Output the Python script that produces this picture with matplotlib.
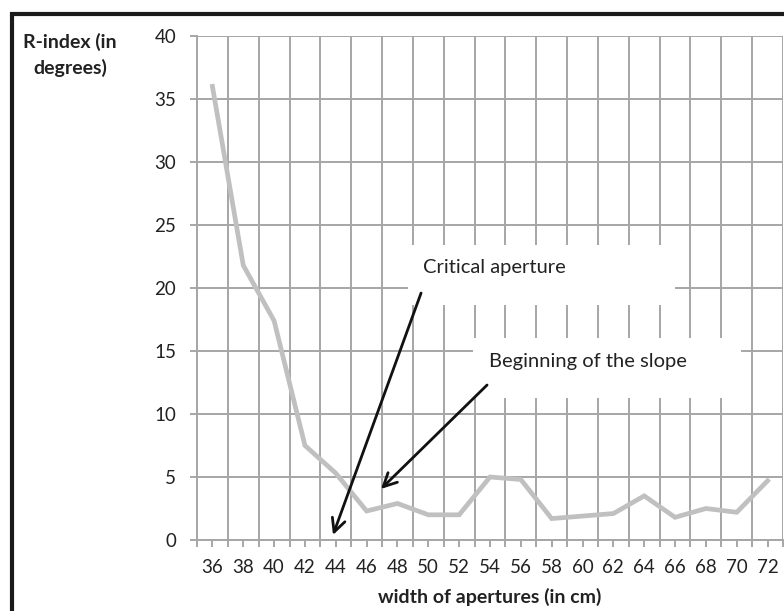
import matplotlib.pyplot as plt
from matplotlib.patches import Rectangle

# valores
widths = [36, 38, 40, 42, 44, 46, 48, 50, 52, 54, 56, 58, 60, 62, 64, 66, 68, 70, 72]
r_index = [36.0, 21.8, 17.4, 7.5, 5.3, 2.3, 2.9, 2.0, 2.0, 5.0, 4.8, 1.7, 1.9, 2.1, 3.5, 1.8, 2.5, 2.2, 4.7]
y_ticks = [0, 5, 10, 15, 20, 25, 30, 35, 40]

plt.rcParams['font.family'] = ['Lato', 'DejaVu Sans']

fig = plt.figure(figsize=(7.84, 6.11), dpi=100)
ax = fig.add_axes([197/784, 1 - 540/611, 586/784, 504/611])
ax.set_axisbelow(True)

grid_col = '#a6a6a6'
ax.plot(widths, r_index, color='#c0c0c0', lw=3.4, zorder=3, solid_joinstyle='miter')

ax.set_xlim(35, 73)
ax.set_ylim(0, 40)
ax.set_xticks(widths)
ax.set_xticks(range(35, 74, 2), minor=True)
ax.set_yticks(y_ticks)
ax.grid(which='minor', axis='x', color=grid_col, lw=1.4)
ax.grid(which='major', axis='y', color=grid_col, lw=1.4)
ax.tick_params(axis='both', which='both', direction='out', length=5, color=grid_col,
               width=1.4, labelsize=13.5, labelcolor='#222222')
ax.tick_params(axis='x', pad=9)
ax.tick_params(axis='y', pad=10)
for s in ['top', 'right']:
    ax.spines[s].set_visible(False)
for s in ['left', 'bottom']:
    ax.spines[s].set_color(grid_col)
    ax.spines[s].set_linewidth(1.4)

# cajas blancas de las anotaciones
ax.add_patch(Rectangle((48.68, 18.65), 17.3, 4.75, facecolor='white', edgecolor='none', zorder=1))
ax.add_patch(Rectangle((52.9, 11.27), 17.4, 4.76, facecolor='white', edgecolor='none', zorder=1))
ax.text(49.66, 21.6, 'Critical aperture', fontsize=14.5, va='center', color='#222222', zorder=2)
ax.text(53.94, 14.2, 'Beginning of the slope', fontsize=14.5, va='center', color='#222222', zorder=2)

arrow = dict(arrowstyle='->', color='#111111', lw=2, mutation_scale=24, shrinkA=0, shrinkB=0)
ax.annotate('', xy=(43.82, 0.4), xytext=(49.53, 19.6), arrowprops=arrow, zorder=4)
ax.annotate('', xy=(46.93, 4.05), xytext=(53.81, 12.3), arrowprops=arrow, zorder=4)

fig.text(70/784, 1 - 55/611, 'R-index (in\ndegrees)', ha='center', va='center',
         fontsize=14, fontweight='bold', color='#222222', linespacing=1.5)
fig.text(490/784, 1 - 597/611, 'width of apertures (in cm)', ha='center', va='center',
         fontsize=14, fontweight='bold', color='#222222')

# borde exterior del grafico
fig.add_artist(Rectangle((11.5/784, -0.1), 1.2, 1 - 14/611 + 0.1, transform=fig.transFigure,
                         fill=False, edgecolor='#1a1a1a', lw=3))

fig.savefig('out.png', dpi=100)
